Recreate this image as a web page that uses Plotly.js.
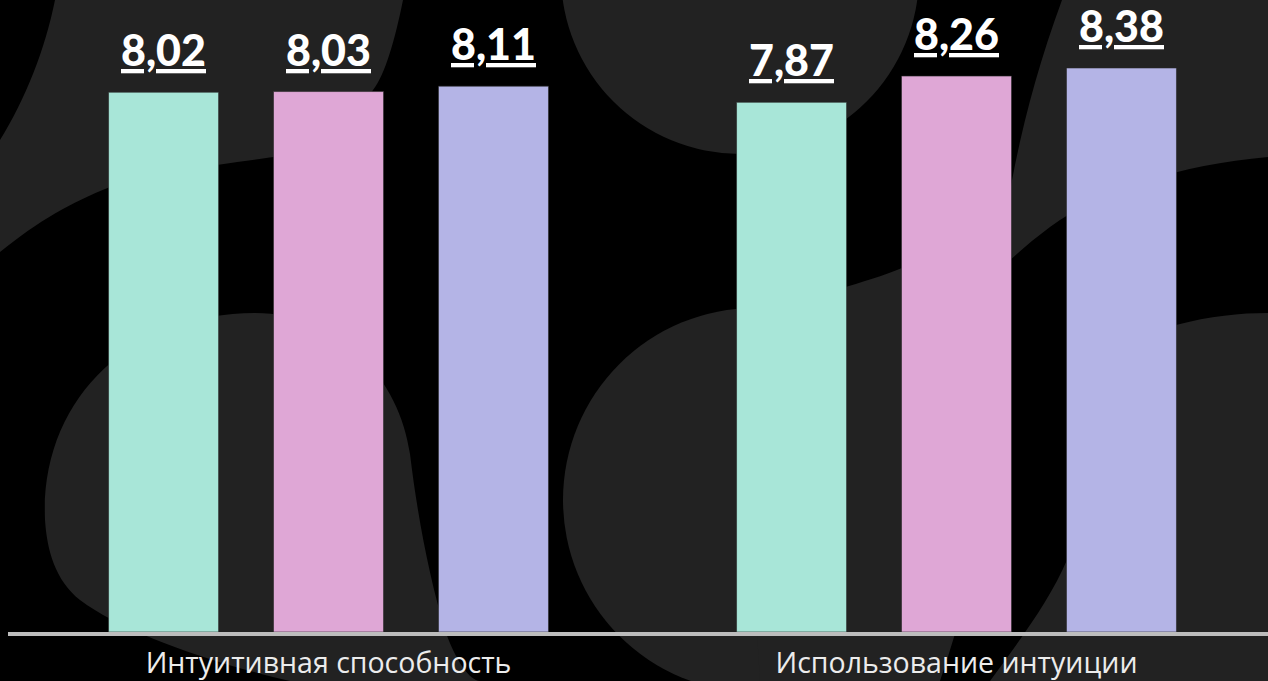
<!DOCTYPE html>
<html><head><meta charset="utf-8">
<script src="https://cdn.plot.ly/plotly-3.0.1.min.js"></script>
<style>html,body{margin:0;padding:0;background:#000;overflow:hidden}#chart{width:1268px;height:681px}</style>
</head><body><div id="chart"></div><script>
// ---- data ----
const categories = ["Интуитивная способность", "Использование интуиции"];
const seriesNames = ["Серия 1", "Серия 2", "Серия 3"];
const series1 = [8.02, 7.87];
const series2 = [8.03, 8.26];
const series3 = [8.11, 8.38];
const seriesColors = ["#a8e6d8", "#dfa7d6", "#b4b4e6"];

// ---- layout constants ----
const W = 1268, H = 681, ML = 8, MR = 0, MT = 0, MB = 49;
const PW = W - ML - MR, PH = H - MT - MB;
const BARGAP = 0.212, BARGROUPGAP = 0.333;

function fmt(v){ return v.toFixed(2).replace('.', ','); }
function px2paper(x, y){ return [((x - ML) / PW).toFixed(5), ((MT + PH - y) / PH).toFixed(5)]; }
function P(d){
  return d.replace(/(-?\d+(?:\.\d+)?),(-?\d+(?:\.\d+)?)/g, function(m, a, b){
    const p = px2paper(+a, +b); return p[0] + ',' + p[1];
  });
}
const BG = '#222222';
function pathShape(d){ return {type:'path', xref:'paper', yref:'paper', layer:'below', path:P(d), fillcolor:BG, line:{width:0}}; }
function circleShape(cx, cy, r){
  const a = px2paper(cx - r, cy + r), b = px2paper(cx + r, cy - r);
  return {type:'circle', xref:'paper', yref:'paper', layer:'below', x0:+a[0], y0:+a[1], x1:+b[0], y1:+b[1], fillcolor:BG, line:{width:0}};
}
const shapes = [
  pathShape("M55,0 L403,0 C395,40 385,75 373,90 C355,120 320,150 274,157 C230,163 140,175 110,187 C70,203 40,220 0,252 L0,140 C25,100 45,50 55,0 Z"),
  circleShape(740, -25, 179),
  pathShape("M45,520 C40,400 130,313 255,313 C340,313 400,380 410,454 C418,520 430,580 445,630 C455,660 470,681 480,681 L290,681 C200,660 120,630 80,600 C55,580 47,550 45,520 Z"),
  circleShape(755, 500, 192),
  pathShape("M737,312 C800,300 860,285 902,268 C940,252 975,245 995,250 C1005,380 995,520 940,681 L760,681 Z"),
  pathShape("M1062,0 L1268,0 L1268,157 C1180,165 1100,190 1050,227 C1030,242 1015,255 1000,270 C1005,200 1025,100 1062,0 Z"),
  pathShape("M1176,325 C1210,316 1240,313 1268,313 L1268,681 L990,681 C1020,640 1050,600 1067,560 C1090,480 1130,380 1176,325 Z")
];

const allSeries = [series1, series2, series3];
const traces = allSeries.map((vals, j) => ({
  type:'bar', name:seriesNames[j], x:categories, y:vals,
  marker:{color:seriesColors[j], line:{width:1, color:'rgba(40,40,40,0.6)'}},
  hoverinfo:'skip'
}));

const slot = (1 - BARGAP) / allSeries.length;
const annotations = [];
allSeries.forEach((vals, j) => {
  vals.forEach((v, i) => {
    annotations.push({
      x: i + (j - (allSeries.length - 1) / 2) * slot, y: v, xref:'x', yref:'y',
      text:'<u>' + fmt(v) + '</u>', showarrow:false, xanchor:'center', yanchor:'bottom', yshift:15,
      font:{family:'Lato, "DejaVu Sans", sans-serif', size:43, weight:900, color:'#ffffff'}
    });
  });
});

const layout = {
  width:W, height:H, margin:{l:ML, r:MR, t:MT, b:MB, pad:0},
  paper_bgcolor:'#000000', plot_bgcolor:'rgba(0,0,0,0)',
  barmode:'group', bargap:BARGAP, bargroupgap:BARGROUPGAP, showlegend:false,
  xaxis:{type:'category', range:[-0.5104, 1.496], showline:true, linecolor:'#bdbdbd', linewidth:4,
         ticks:'', showgrid:false, zeroline:false, fixedrange:true, ticklabelstandoff:3,
         tickfont:{family:'"Open Sans", sans-serif', size:28.5, color:'#ececec'}},
  yaxis:{range:[0, 9.39], visible:false, showgrid:false, zeroline:false, fixedrange:true},
  shapes:shapes, annotations:annotations
};
Plotly.newPlot('chart', traces, layout, {staticPlot:true, displayModeBar:false});
</script></body></html>
